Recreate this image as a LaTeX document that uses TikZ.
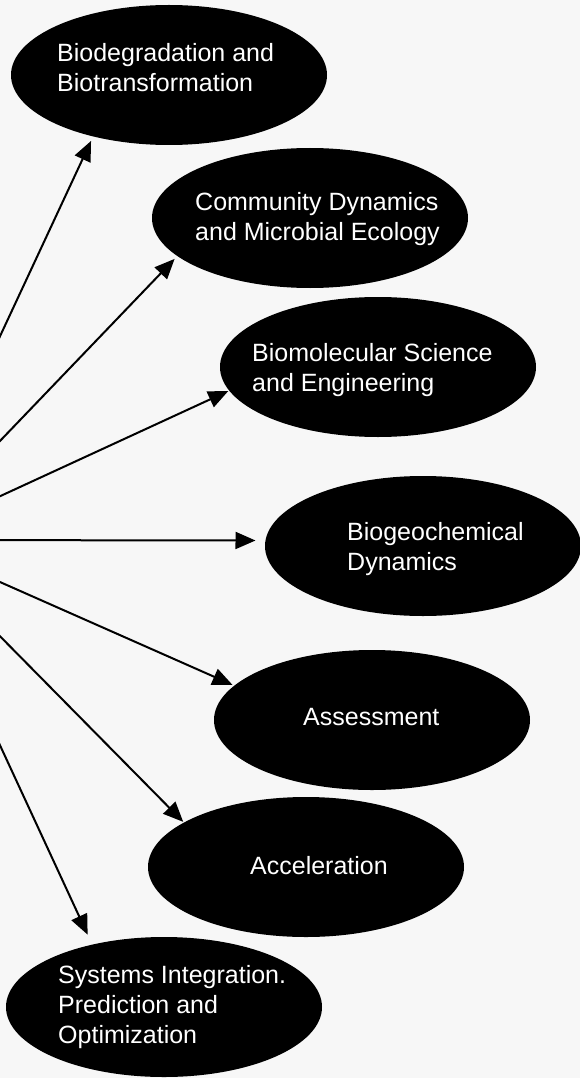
\documentclass[tikz,border=0pt]{standalone}
\usepackage{fontspec}
\setmainfont{Liberation Sans}
\usepackage{tikz}
\usetikzlibrary{shapes.geometric, arrows.meta}
\definecolor{paper}{RGB}{247,247,247}
\tikzstyle{topic} = [ellipse, minimum width=316pt, minimum height=140pt, inner sep=0pt, outer sep=0pt, fill=black]
\tikzstyle{topictext} = [anchor=north west, inner sep=0pt, align=left, text=white, font=\fontsize{25}{30}\selectfont]
\tikzstyle{arrow} = [line width=2pt, -{Triangle[length=20pt, width=17pt]}]

\begin{document}
\begin{tikzpicture}[x=1pt, y=-1pt]
            \fill [paper] (0,0) rectangle (580,1078);
            \useasboundingbox (0,0) rectangle (580,1078);
            \coordinate (hub) at (-95,540);
            \node (biodeg) [topic] at (169,75) {};
            \node (community) [topic] at (310,218) {};
            \node (biomol) [topic] at (378,367) {};
            \node (biogeo) [topic] at (423,546) {};
            \node (assess) [topic] at (372,720) {};
            \node (accel) [topic] at (306,867) {};
            \node (systems) [topic] at (164,1007) {};
            \node (biodegtext) [topictext] at (57,43) {Biodegradation and\\Biotransformation};
            \node (communitytext) [topictext] at (195,192) {Community Dynamics\\and Microbial Ecology};
            \node (biomoltext) [topictext] at (252,343) {Biomolecular Science\\and Engineering};
            \node (biogeotext) [topictext] at (347,522) {Biogeochemical\\Dynamics};
            \node (assesstext) [topictext] at (303,708) {Assessment};
            \node (acceltext) [topictext] at (250,856) {Acceleration};
            \node (systemstext) [topictext] at (58,965) {Systems Integration.\\Prediction and\\Optimization};
            \draw [arrow, shorten >=5pt] (hub) -- (biodeg.219);
            \draw [arrow, shorten >=4pt] (hub) -- (community.196);
            \draw [arrow, shorten >=1pt] (hub) -- (biomol.189);
            \draw [arrow, shorten >=10pt] (hub) -- (biogeo.178);
            \draw [arrow, shorten >=2pt] (hub) -- (assess.166);
            \draw [arrow, shorten >=1pt] (hub) -- (accel.160);
            \draw [arrow, shorten >=11pt] (hub) -- (systems.139);
        \end{tikzpicture}
\end{document}
